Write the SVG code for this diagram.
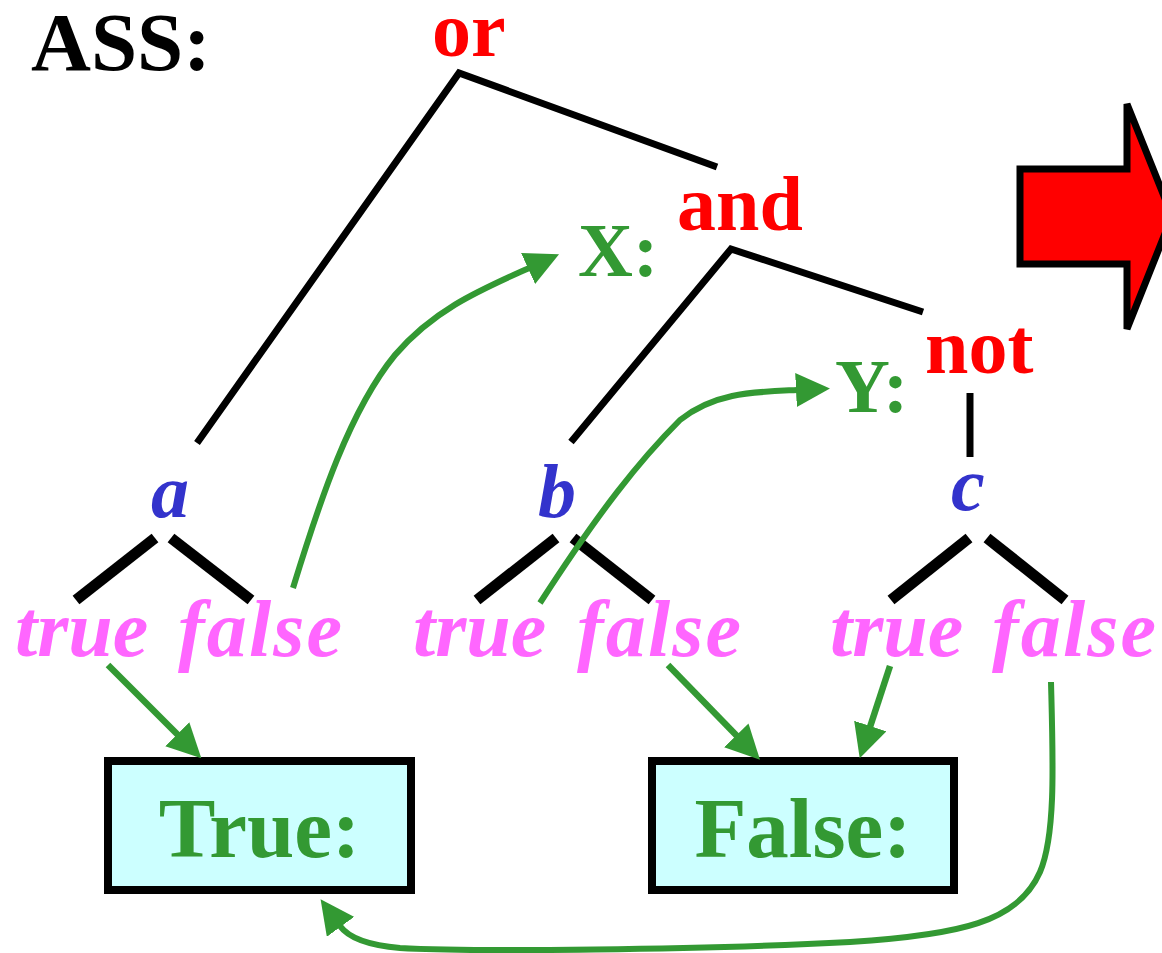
<svg xmlns="http://www.w3.org/2000/svg" width="1162" height="953" viewBox="0 0 1162 953">
<style>
text{font-family:"Liberation Serif","Times New Roman",serif;font-weight:bold}
.op{fill:#ff0000;font-size:78px}
.lbl{fill:#339933;font-size:76px}
.var{fill:#3333cc;font-size:76px;font-style:italic}
.tf{fill:#ff66ff;font-size:80px;font-style:italic}
.box{fill:#ccffff;stroke:#000;stroke-width:8}
.boxt{fill:#339933;font-size:85px;text-anchor:middle}
.tree{fill:none;stroke:#000;stroke-width:7}
.br{fill:none;stroke:#000;stroke-width:11}
.g{fill:none;stroke:#339933;stroke-width:6.5}
.gc{fill:none;stroke:#339933;stroke-width:6}
</style>
<defs>
<marker id="ah" viewBox="0 0 34 34" markerUnits="userSpaceOnUse" markerWidth="34" markerHeight="34" refX="1" refY="17" orient="auto">
<path d="M0,0 L34,17 L0,34 z" fill="#339933"/>
</marker>
</defs>
<text x="31" y="70" style="font-size:83px;fill:#000">ASS:</text>
<g id="big-arrow">
<polygon points="1020,169 1127,169 1127,104 1172,216 1127,329 1127,264 1020,264" fill="#ff0000" stroke="#000" stroke-width="7"/>
</g>
<g id="or"><text class="op" x="432" y="56">or</text></g>
<g id="and"><text class="op" x="677" y="230">and</text><text class="lbl" x="578" y="276">X:</text></g>
<g id="not"><text class="op" x="925" y="373">not</text><text class="lbl" x="835" y="412">Y:</text></g>
<g id="a"><text class="var" x="151" y="517">a</text><text class="tf" x="15" y="656">true</text><text class="tf" x="178" y="656" textLength="164" lengthAdjust="spacing">false</text></g>
<g id="b"><text class="var" x="538" y="517">b</text><text class="tf" x="413" y="656">true</text><text class="tf" x="577" y="656" textLength="164" lengthAdjust="spacing">false</text></g>
<g id="c"><text class="var" x="951" y="510">c</text><text class="tf" x="830" y="656">true</text><text class="tf" x="992" y="656" textLength="164" lengthAdjust="spacing">false</text></g>
<g id="true-box"><rect class="box" x="108" y="761" width="303" height="129"/><text class="boxt" x="259.5" y="857">True:</text></g>
<g id="false-box"><rect class="box" x="652" y="761" width="302" height="129"/><text class="boxt" x="803" y="857">False:</text></g>
<g id="connectors">
<polyline class="tree" points="197,443 459,73 717,167"/>
<polyline class="tree" points="571,442 731,249 923,312"/>
<line class="tree" x1="970" y1="393" x2="970" y2="457"/>
<line class="br" x1="155" y1="538" x2="76" y2="600"/>
<line class="br" x1="171" y1="538" x2="251" y2="600"/>
<line class="br" x1="556" y1="538" x2="477" y2="600"/>
<line class="br" x1="573" y1="538" x2="652" y2="600"/>
<line class="br" x1="969" y1="538" x2="891" y2="600"/>
<line class="br" x1="987" y1="538" x2="1065" y2="600"/>
<path class="gc" d="M293,588 C320,500 350,410 395,355 C435,308 485,288 529,268" marker-end="url(#ah)"/>
<path class="gc" d="M540,603 C600,510 640,460 680,420 C715,392 755,392 797,390" marker-end="url(#ah)"/>
<path class="g" d="M108,665 L178,735" marker-end="url(#ah)"/>
<path class="g" d="M668,665 L737,736" marker-end="url(#ah)"/>
<path class="g" d="M890,666 L870,727" marker-end="url(#ah)"/>
<path class="gc" d="M1051,682 C1053,760 1056,835 1040,872 C1018,922 960,935 850,942 C700,950 470,952 400,948 C365,945 348,937 340,926" marker-end="url(#ah)"/>
</g>
</svg>
